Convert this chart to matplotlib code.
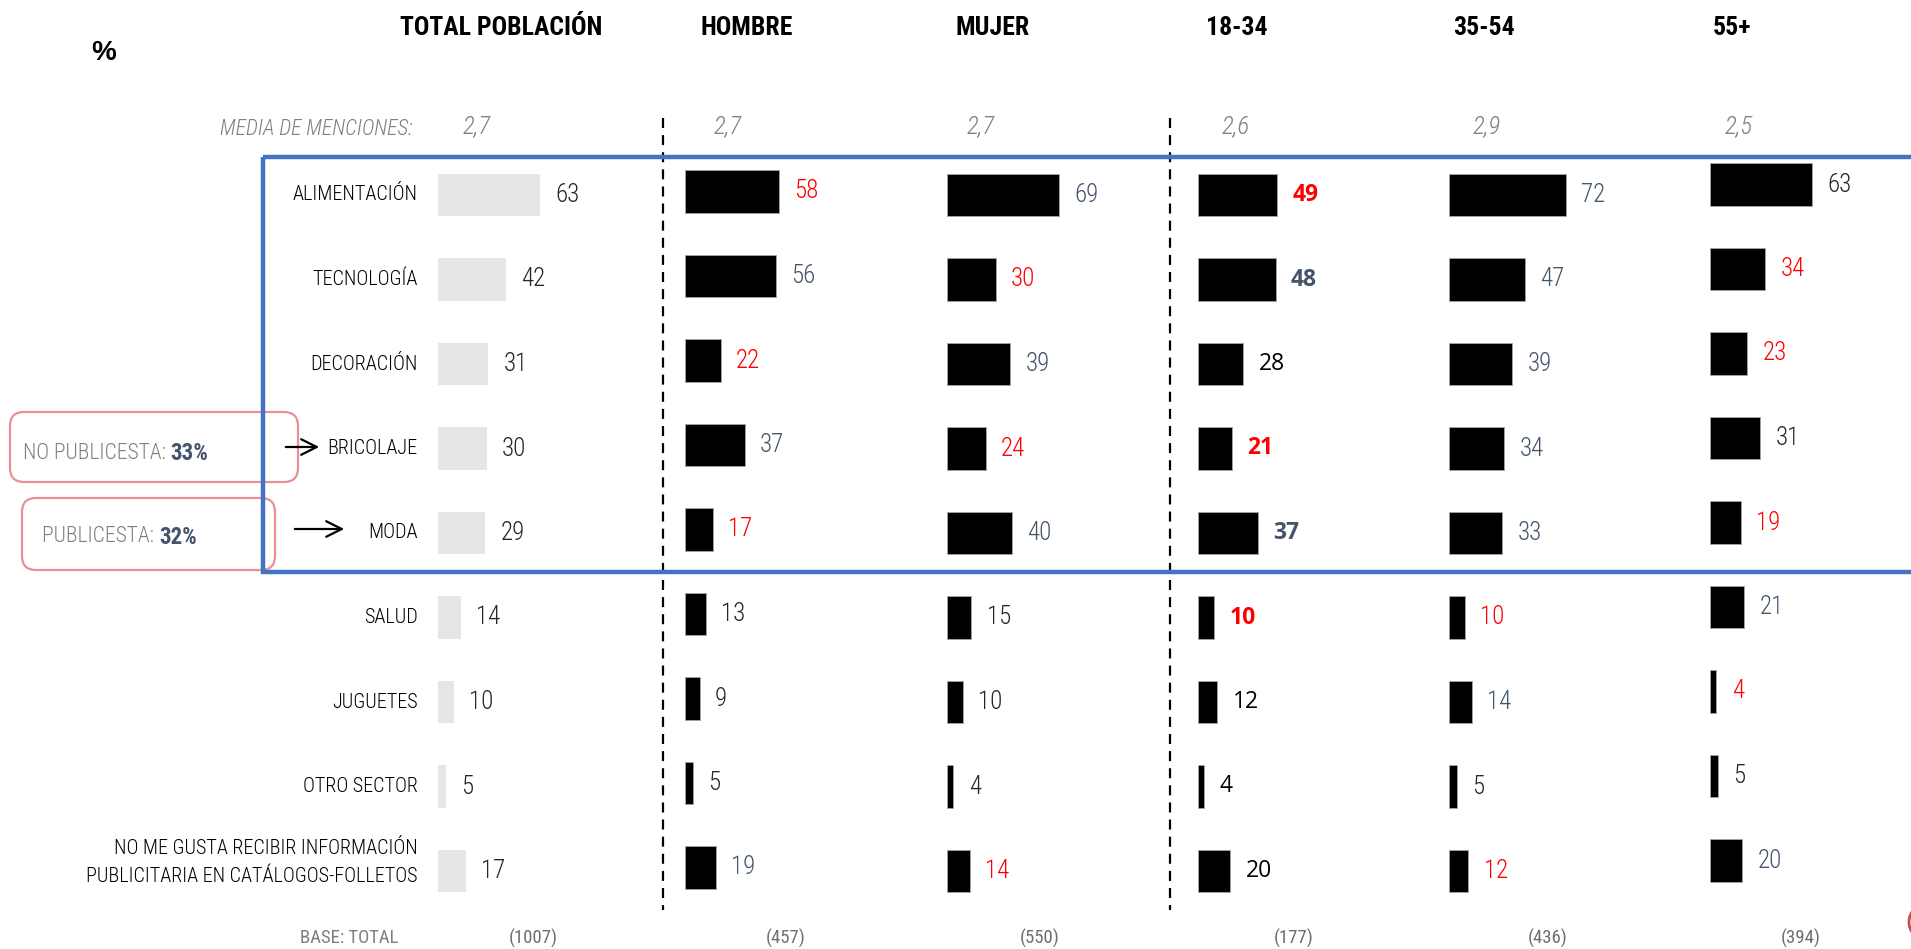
import numpy as np
import matplotlib
matplotlib.use("Agg")
import matplotlib.pyplot as plt
from matplotlib import font_manager as fm
from matplotlib.patches import FancyBboxPatch, Rectangle, Circle

# ---------------------------------------------------------------- data
categories = [
    "ALIMENTACIÓN", "TECNOLOGÍA", "DECORACIÓN", "BRICOLAJE", "MODA",
    "SALUD", "JUGUETES", "OTRO SECTOR",
    "NO ME GUSTA RECIBIR INFORMACIÓN\nPUBLICITARIA EN CATÁLOGOS-FOLLETOS",
]
groups = ["TOTAL POBLACIÓN", "HOMBRE", "MUJER", "18-34", "35-54", "55+"]

total = [63, 42, 31, 30, 29, 14, 10, 5, 17]
hombre = [58, 56, 22, 37, 17, 13, 9, 5, 19]
mujer = [69, 30, 39, 24, 40, 15, 10, 4, 14]
edad_18_34 = [49, 48, 28, 21, 37, 10, 12, 4, 20]
edad_35_54 = [72, 47, 39, 34, 33, 10, 14, 5, 12]
edad_55 = [63, 34, 23, 31, 19, 21, 4, 5, 20]

# significance against total: "+" above, "-" below, "=" no difference
sig_total = "========="
sig_hombre = "-+-+-===+"
sig_mujer = "+-+-+===-"
sig_18_34 = "-+=-+-==="
sig_35_54 = "+++++-+=-"
sig_55 = "=--=-+-=+"

media_menciones = ["2,7", "2,7", "2,7", "2,6", "2,9", "2,5"]
base_sizes = ["(1007)", "(457)", "(550)", "(177)", "(436)", "(394)"]

# ---------------------------------------------------------------- fonts
installed = {f.name for f in fm.fontManager.ttflist}


def first_installed(*names, default="Liberation Sans"):
    for n in names:
        if n in installed:
            return n
    return default


NARROW = first_installed("Roboto Condensed", "Liberation Sans Narrow",
                         "Open Sans Condensed", "DejaVu Sans Condensed")
BODY = first_installed("Open Sans", "Liberation Sans")
ARIAL = first_installed("Liberation Sans", "DejaVu Sans")

RED = "#FF0000"
SLATE = "#44546A"
DARK = "#262626"
GREY_TXT = "#7F7F7F"
BLUE = "#4472C4"
PINK = "#EA8E98"
tone = {"+": SLATE, "-": RED, "=": DARK}

# ---------------------------------------------------------------- layout
W, H = 1911, 949
fig = plt.figure(figsize=(W / 100, H / 100), dpi=100)
bg = fig.add_axes([0, 0, 1, 1], zorder=0)
bg.set_xlim(0, W)
bg.set_ylim(H, 0)
bg.axis("off")

n = len(categories)
row0, row_step = 195.0, 84.5
px_per_unit = 1.62
span_units = 140
col_left = [438, 685, 947, 1198, 1449, 1710]
col_dy = [0, -3.5, 0, 0, 0, -10.5]
col_center = [501, 747, 993, 1237, 1484, 1732]
media_x = [477, 728, 981, 1236, 1487, 1739]
base_x = [533, 786, 1040, 1294, 1548, 1801]

series = [total, hombre, mujer, edad_18_34, edad_35_54, edad_55]
sigs = [sig_total, sig_hombre, sig_mujer, sig_18_34, sig_35_54, sig_55]

panels = []
for c, (vals, sig) in enumerate(zip(series, sigs)):
    top = row0 - row_step / 2 + col_dy[c]
    height = row_step * n
    ax = fig.add_axes([col_left[c] / W, 1 - (top + height) / H,
                       span_units * px_per_unit / W, height / H], zorder=2)
    ax.set_xlim(0, span_units)
    ax.set_ylim(n - 0.5, -0.5)
    ax.axis("off")
    y = np.arange(n)
    if c == 0:
        ax.barh(y, vals, height=0.5, color="#E6E6E6", edgecolor="none")
    else:
        ax.barh(y, vals, height=0.5, color="black", edgecolor="#A6A6A6",
                linewidth=0.6)
    for j, v in enumerate(vals):
        col = tone[sig[j]]
        if c == 3:
            kw = dict(family=BODY, fontsize=16.5,
                      fontweight="bold" if sig[j] != "=" else "normal",
                      color=col if sig[j] != "=" else "black")
        else:
            kw = dict(family=NARROW, fontsize=18, fontweight=300, color=col)
        ax.annotate(str(v), xy=(v, j), xytext=(11, 0),
                    textcoords="offset points", ha="left", va="center",
                    annotation_clip=False, **kw)
    panels.append(ax)

# category labels, right-aligned against the first panel
for j, cat in enumerate(categories):
    dy = 6 if "\n" in cat else 0
    panels[0].annotate(cat, xy=(0, j), xytext=(-14.5, dy),
                       textcoords="offset points", ha="right", va="center",
                       family=NARROW, fontsize=14.5, fontweight=300,
                       color="black", linespacing=1.6,
                       annotation_clip=False)

# column headers
for x, g in zip(col_center, groups):
    bg.text(x, 28, g, ha="center", va="center", family=NARROW,
            fontsize=18.5, fontweight="bold", color="black")

bg.text(104, 53, "%", ha="center", va="center", family=ARIAL,
        fontsize=20, fontweight="bold", color="black")

# average number of mentions
bg.text(412, 129, "MEDIA DE MENCIONES:", ha="right", va="center",
        family=NARROW, style="italic", fontsize=15.5, fontweight=300,
        color=GREY_TXT)
for x, m in zip(media_x, media_menciones):
    bg.text(x, 126, m, ha="center", va="center", family=NARROW,
            style="italic", fontsize=18, fontweight=300, color=GREY_TXT)

# base sizes
bg.text(349, 938, "BASE: TOTAL", ha="center", va="center", family=NARROW,
        fontsize=13.5, color=GREY_TXT)
for x, b in zip(base_x, base_sizes):
    bg.text(x, 938, b, ha="center", va="center", family=NARROW,
            fontsize=13.5, color="#6E6E6E")

# dashed separators between blocks
for x in (663, 1170):
    bg.plot([x, x], [118, 910], color="black", lw=1.6,
            ls=(0, (4.5, 3.2)), zorder=1)

# callout boxes
for (bx, by, bw, bh), lab, pct, tx, ty in [
        ((10, 412, 288, 70), "NO PUBLICESTA: ", "33%", 23, 453),
        ((22, 498, 253, 72), "PUBLICESTA: ", "32%", 42, 537)]:
    bg.add_patch(FancyBboxPatch((bx, by), bw, bh,
                                boxstyle="round,pad=0,rounding_size=14",
                                fc="none", ec=PINK, lw=1.6, zorder=1))
    t1 = bg.text(tx, ty, lab, ha="left", va="center", family=NARROW,
                 fontsize=15.5, fontweight=300, color=GREY_TXT)
    bg.annotate(pct, xy=(1, 0.5), xycoords=t1, ha="left", va="center",
                family=NARROW, fontsize=16.5, fontweight="bold", color=SLATE)

bg.annotate("", xy=(322, 447), xytext=(283, 447),
            arrowprops=dict(arrowstyle="->", lw=1.6, color="black",
                            mutation_scale=28))
bg.annotate("", xy=(347, 529), xytext=(292, 529),
            arrowprops=dict(arrowstyle="->", lw=1.6, color="black",
                            mutation_scale=28))

# highlighted block
bg.add_patch(Rectangle((263, 157), 1700, 415, fc="none", ec=BLUE, lw=3.2,
                       zorder=3))

bg.add_patch(Circle((1928, 922), 19, fc="none", ec="#C0504D", lw=2, zorder=3))

fig.savefig("out.png", dpi=100)
